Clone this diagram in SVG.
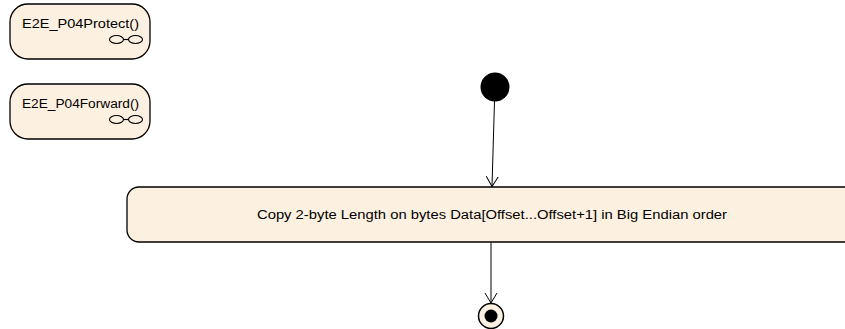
<svg xmlns="http://www.w3.org/2000/svg" width="845" height="329" viewBox="0 0 845 329">
<style>
.node{fill:#FCF0E1;stroke:#000;stroke-width:1.3}
.lbl{font-family:"Liberation Sans",Arial,sans-serif;font-size:12.5px;fill:#000}
.main{font-size:12px}
.sym{fill:none;stroke:#000;stroke-width:1.2}
.edge{fill:none;stroke:#000;stroke-width:1}
</style>
<defs>
<marker id="open" markerWidth="12" markerHeight="20" refX="10" refY="10" orient="auto" markerUnits="userSpaceOnUse">
<path d="M0,4 L10,10 L0,16" fill="none" stroke="#000" stroke-width="1"/>
</marker>
</defs>
<g id="node-protect">
<rect class="node" x="10" y="4" width="140" height="55" rx="18" ry="18"/>
<text class="lbl" x="22" y="28" textLength="117" lengthAdjust="spacingAndGlyphs">E2E_P04Protect()</text>
<g class="sym"><ellipse cx="116.5" cy="39.5" rx="7" ry="4"/><line x1="123.5" y1="39.5" x2="128.5" y2="39.5"/><ellipse cx="135.5" cy="39.5" rx="7" ry="4"/></g>
</g>
<g id="node-forward">
<rect class="node" x="10" y="84" width="140" height="55" rx="18" ry="18"/>
<text class="lbl" x="22" y="108" textLength="117" lengthAdjust="spacingAndGlyphs">E2E_P04Forward()</text>
<g class="sym"><ellipse cx="116.5" cy="119.5" rx="7" ry="4"/><line x1="123.5" y1="119.5" x2="128.5" y2="119.5"/><ellipse cx="135.5" cy="119.5" rx="7" ry="4"/></g>
</g>
<g id="node-initial">
<circle cx="495" cy="87" r="14.5" fill="#000"/>
</g>
<g id="node-action">
<rect class="node" x="127" y="187" width="730" height="55" rx="12" ry="12"/>
<text class="lbl main" x="492" y="219" text-anchor="middle" textLength="470" lengthAdjust="spacingAndGlyphs">Copy 2-byte Length on bytes Data[Offset...Offset+1] in Big Endian order</text>
</g>
<g id="node-final">
<circle cx="491" cy="316" r="12.5" fill="#FCF0E1" stroke="#000" stroke-width="1.5"/>
<circle cx="491" cy="316" r="6.5" fill="#000"/>
</g>
<g id="connectors">
<line class="edge" x1="494.5" y1="101" x2="492" y2="186.5" marker-end="url(#open)"/>
<line class="edge" x1="491" y1="242.5" x2="491" y2="303" marker-end="url(#open)"/>
</g>
</svg>
